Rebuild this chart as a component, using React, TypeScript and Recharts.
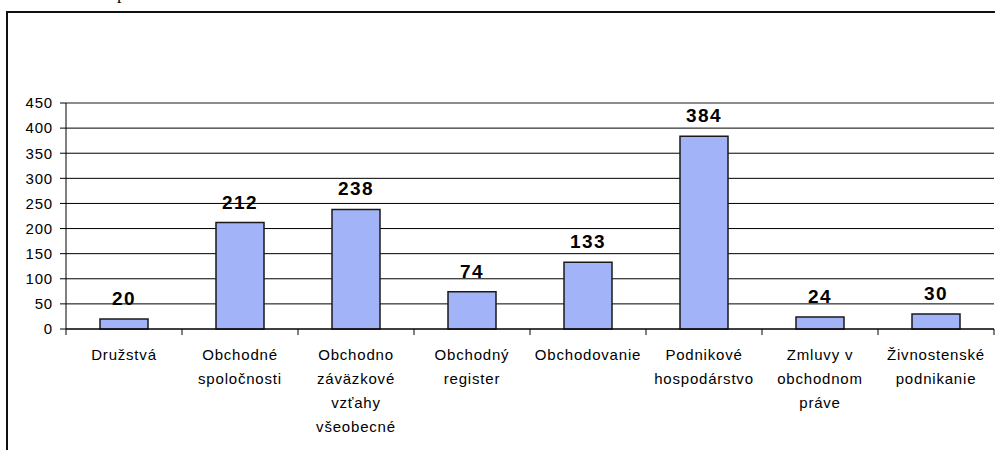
import React from "react";
import { BarChart, Bar, XAxis, YAxis, CartesianGrid, LabelList, ReferenceLine } from "recharts";

// kategórie (zalomenie riadkov ako v originále)
const categories = [
    "Družstvá",
    "Obchodné\nspoločnosti",
    "Obchodno\nzáväzkové\nvzťahy\nvšeobecné",
    "Obchodný\nregister",
    "Obchodovanie",
    "Podnikové\nhospodárstvo",
    "Zmluvy v\nobchodnom\npráve",
    "Živnostenské\npodnikanie",
];
const counts = [20, 212, 238, 74, 133, 384, 24, 30];
const yTicks = [0, 50, 100, 150, 200, 250, 300, 350, 400, 450];

const data = categories.map((name, i) => ({ name, value: counts[i] }));

const FONT = "'Liberation Sans', Arial, sans-serif";

const CategoryTick = (props: any) => {
    const { x, y, payload, index } = props;
    const half = payload?.offset ?? 58;
    const lines = String(payload.value).split("\n");
    return (
        <g>
            <line x1={x - half} y1={y} x2={x - half} y2={y + 6} stroke="#000" />
            {index === categories.length - 1 && <line x1={x + half} y1={y} x2={x + half} y2={y + 6} stroke="#000" />}
            <text x={x} y={y} textAnchor="middle" fontFamily={FONT} fontSize={15} letterSpacing={0.8} fill="#000">
                {lines.map((l, i) => (
                    <tspan key={i} x={x} y={y + 31 + i * 24}>
                        {l}
                    </tspan>
                ))}
            </text>
        </g>
    );
};

export default function App() {
    return (
        <div style={{ position: "absolute", left: 0, top: 0, width: 995, height: 450, overflow: "hidden", background: "#fff" }}>
            {/* kúsok textu nad rámom */}
            <div style={{ position: "absolute", left: 117, top: -16, fontFamily: "'Liberation Serif', serif", fontSize: 18, lineHeight: "18px" }}>p</div>
            {/* rám grafu */}
            <div style={{ position: "absolute", left: 6, top: 11, width: 1100, height: 600, borderLeft: "2px solid #111", borderTop: "2px solid #111" }} />
            <div style={{ position: "absolute", left: 0, top: 0 }}>
                <BarChart width={995} height={450} data={data} margin={{ top: 103, right: 1, bottom: 0, left: 0 }}>
                    <CartesianGrid vertical={false} stroke="#000" />
                    <ReferenceLine y={450} stroke="#999" />
                    <XAxis
                        dataKey="name"
                        height={121}
                        interval={0}
                        tickSize={0}
                        tickMargin={0}
                        tickLine={false}
                        axisLine={{ stroke: "#000" }}
                        tick={<CategoryTick />}
                    />
                    <YAxis
                        width={66}
                        domain={[0, 450]}
                        ticks={yTicks}
                        interval={0}
                        tickSize={6}
                        tickMargin={7}
                        axisLine={{ stroke: "#000" }}
                        tickLine={{ stroke: "#000" }}
                        tick={{ fill: "#000", fontFamily: FONT, fontSize: 15, letterSpacing: 0.8 }}
                    />
                    <Bar dataKey="value" fill="#a3b3f8" stroke="#1a1a1a" strokeWidth={1.5} barSize={48} isAnimationActive={false}>
                        <LabelList
                            dataKey="value"
                            position="top"
                            offset={14}
                            fill="#000"
                            fontFamily={FONT}
                            fontSize={19}
                            fontWeight="bold"
                            letterSpacing={1.5}
                        />
                    </Bar>
                </BarChart>
            </div>
        </div>
    );
}
